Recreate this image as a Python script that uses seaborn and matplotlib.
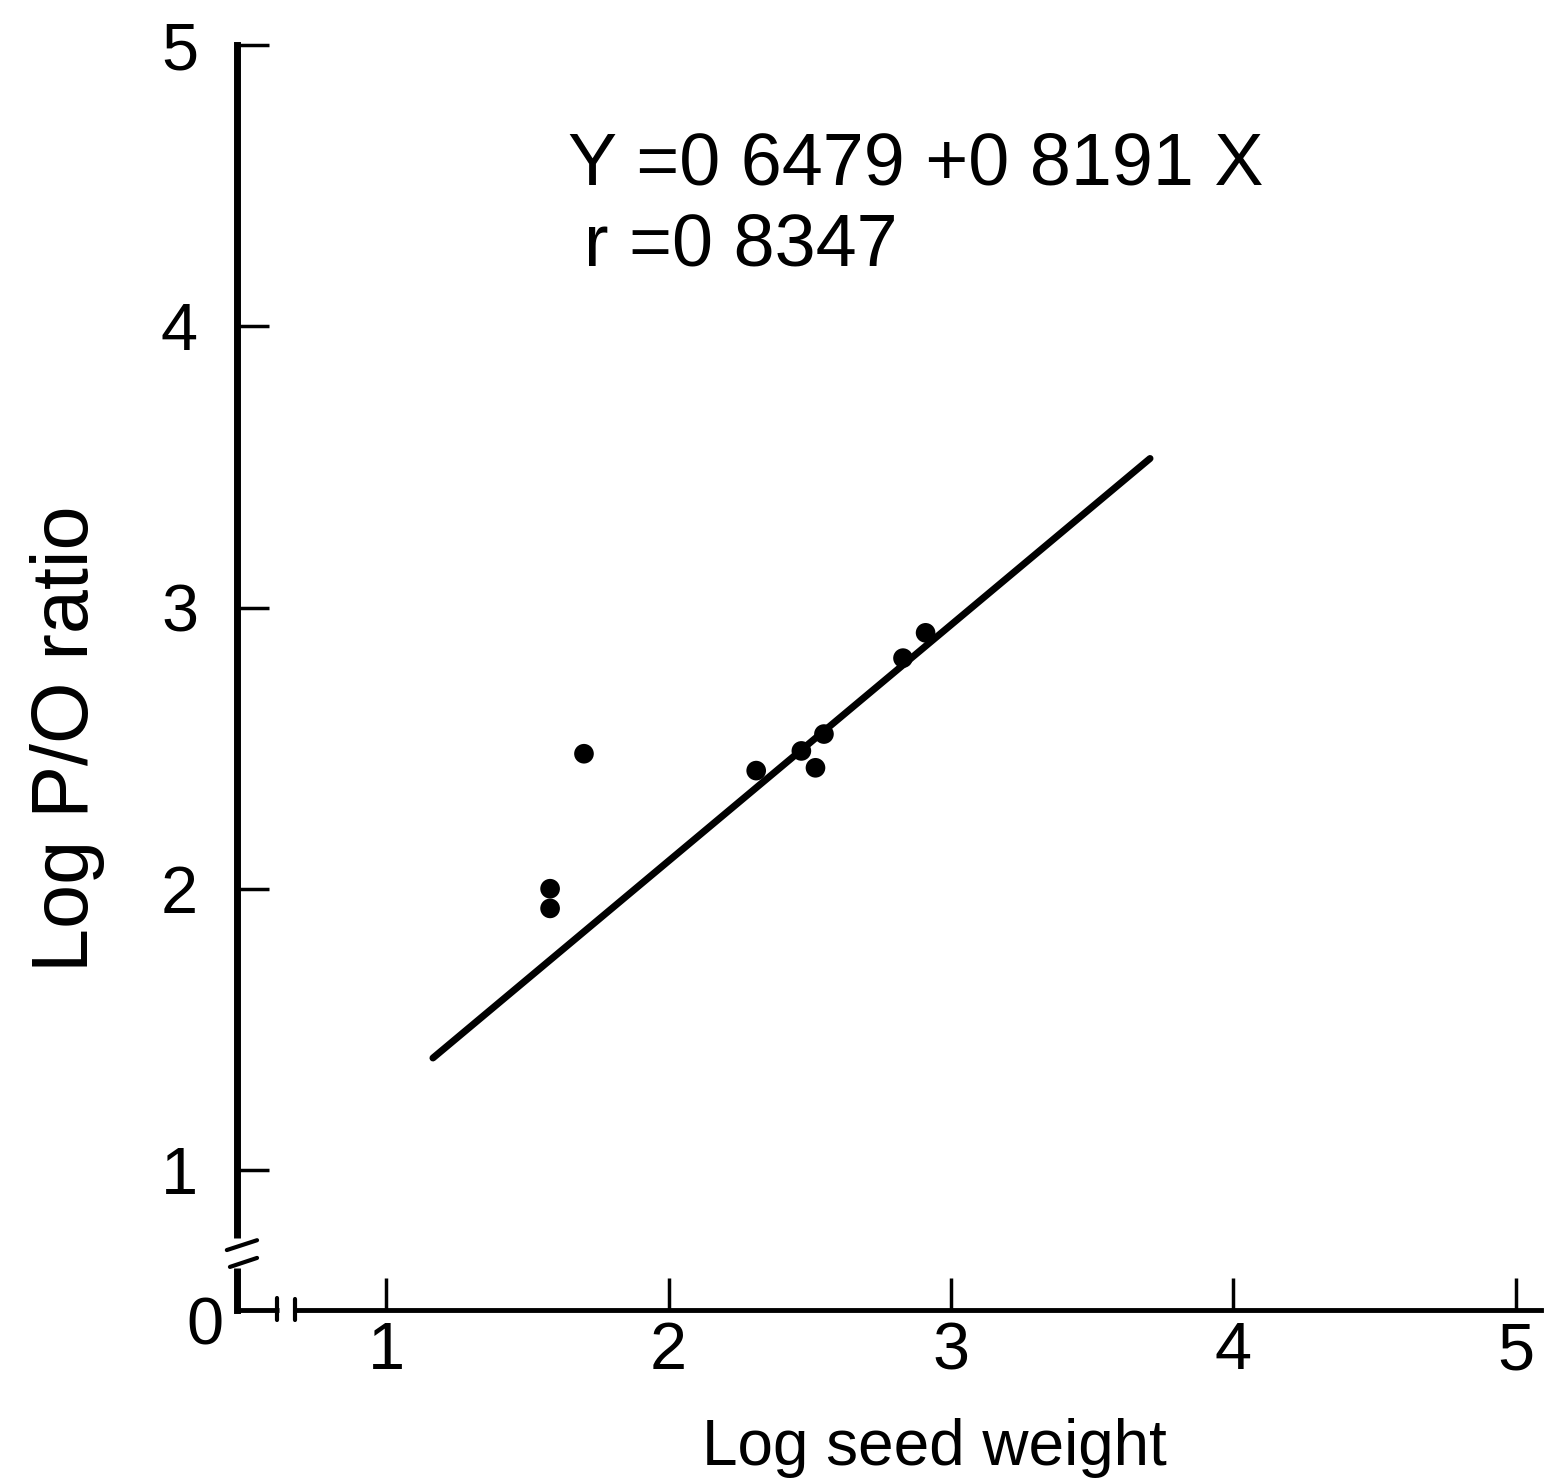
import matplotlib
matplotlib.use("Agg")
import matplotlib.pyplot as plt
import seaborn as sns

# ---- data ----
seed_weight_x = [1.58, 1.58, 1.70, 2.31, 2.47, 2.52, 2.55, 2.83, 2.91]
po_ratio_y = [2.00, 1.93, 2.48, 2.42, 2.49, 2.43, 2.55, 2.82, 2.91]
fit_x = [1.165, 3.705]
fit_y = [1.398, 3.53]
x_ticks = [1, 2, 3, 4, 5]
y_ticks = [1, 2, 3, 4, 5]
x_ticklabels = ["1", "2", "3", "4", "5"]
y_ticklabels = ["1", "2", "3", "4", "5"]
equation_text = "Y =0 6479 +0 8191 X"
r_text = "r =0 8347"
x_label = "Log seed weight"
y_label = "Log P/O ratio"
origin_label = "0"

sns.set_theme(style="white")
plt.rcParams['font.family'] = ['Liberation Sans', 'DejaVu Sans']

fig = plt.figure(figsize=(15.46, 14.79), dpi=100)
ax = fig.add_axes([0.1533, 0.1143, 0.8435, 0.8552])

sns.lineplot(x=fit_x, y=fit_y, ax=ax, color='black', linewidth=5)
sns.scatterplot(x=seed_weight_x, y=po_ratio_y, ax=ax, color='black', s=200,
                edgecolor='none', linewidth=0, zorder=3)

XMIN, XMAX = 0.471, 5.09
YMIN, YMAX = 0.502, 5.0
ax.set_xlim(XMIN, XMAX)
ax.set_ylim(YMIN, YMAX)

sns.despine(ax=ax)
ax.spines['left'].set_linewidth(5)
ax.spines['bottom'].set_linewidth(3.5)
for s in ('left', 'bottom'):
    ax.spines[s].set_color('black')

ax.set_xticks(x_ticks)
ax.set_xticklabels(x_ticklabels)
ax.set_yticks(y_ticks)
ax.set_yticklabels(y_ticklabels)
ax.tick_params(axis='both', direction='in', length=23, width=2.5, color='black',
               labelsize=48, labelcolor='black', left=True, bottom=True)
ax.tick_params(axis='x', pad=8)
ax.tick_params(axis='y', pad=28)

ax.set_xlabel(x_label, fontsize=46, color='black')
ax.xaxis.set_label_coords(0.535, -0.0854)
ax.set_ylabel(y_label, fontsize=57, color='black')
ax.yaxis.set_label_coords(-0.101, 0.452)

ax.text(0.357, 0.438, origin_label, ha='center', va='center', fontsize=48,
        color='black', clip_on=False)

ax.text(1.643, 4.503, equation_text, fontsize=53, va='baseline', ha='left', color='black')
ax.text(1.70, 4.218, r_text, fontsize=53, va='baseline', ha='left', color='black')

# axis break marks
ax.plot([XMIN, XMIN], [0.651, 0.758], color='white', linewidth=12, clip_on=False,
        zorder=5, solid_capstyle='butt')
ax.plot([0.435, 0.542], [0.715, 0.750], color='black', linewidth=3, clip_on=False, zorder=6)
ax.plot([0.446, 0.542], [0.655, 0.687], color='black', linewidth=3, clip_on=False, zorder=6)

ax.plot([0.62, 0.67], [YMIN, YMIN], color='white', linewidth=8, clip_on=False,
        zorder=5, solid_capstyle='butt')
ax.plot([0.612, 0.612], [0.465, 0.545], color='black', linewidth=3, clip_on=False, zorder=6)
ax.plot([0.676, 0.676], [0.465, 0.540], color='black', linewidth=3, clip_on=False, zorder=6)

fig.savefig("out.png", dpi=100)
